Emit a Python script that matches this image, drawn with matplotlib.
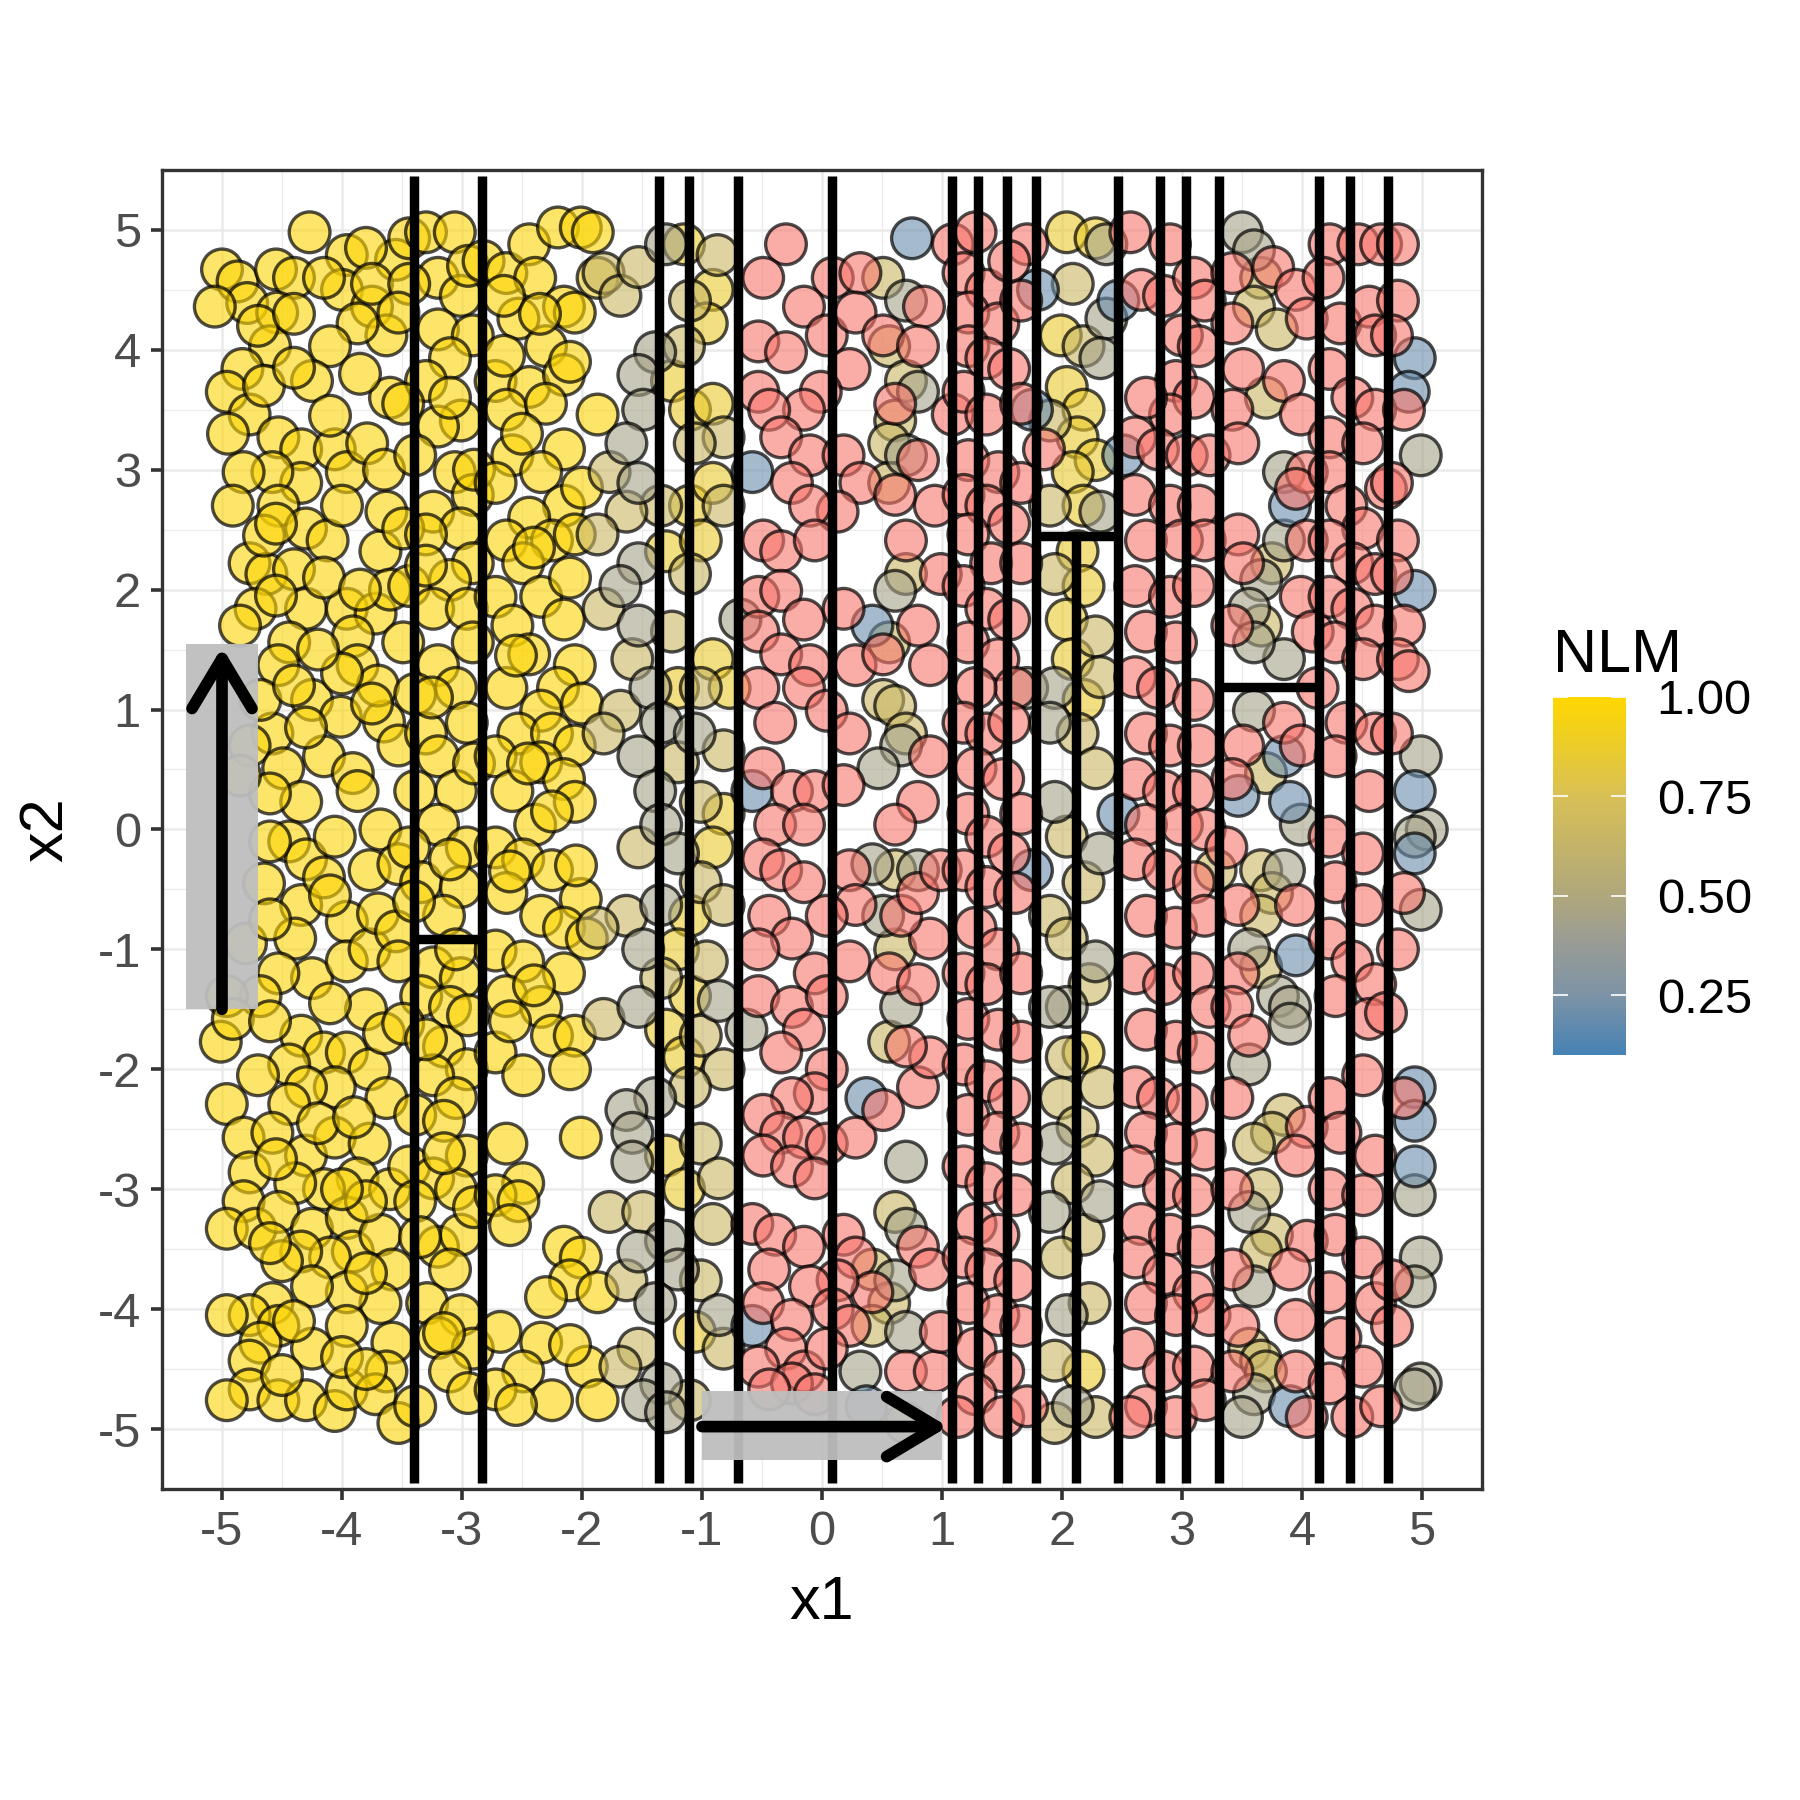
import numpy as np
import matplotlib
matplotlib.use("Agg")
from matplotlib import pyplot as plt
from matplotlib.colors import LinearSegmentedColormap, Normalize
from matplotlib.cm import ScalarMappable
from matplotlib.patches import Rectangle

plt.rcParams['font.family'] = ['Liberation Sans', 'DejaVu Sans']
plt.rcParams['axes.unicode_minus'] = False

# ---- data: (x1, x2) per colour group ----
gold_pts = [
    (-5, 4.67), (-4.87, 4.57), (-4.79, 4.39), (-5.06, 4.36), (-4.55, 4.67), (-4.27, 4.98), (-4.4, 4.6),
    (-4.54, 4.31), (-3.96, 4.79), (-4.0, 4.5), (-3.75, 4.36), (-3.63, 4.12), (-3.87, 4.22), (-4.1, 4.03),
    (-4.6, 4.03), (-4.25, 3.74), (-4.83, 3.84), (-4.96, 3.65), (-4.77, 3.46), (-4.53, 3.27), (-4.34, 3.17),
    (-4.06, 3.17), (-3.96, 2.98), (-3.79, 3.22), (-4.34, 2.89), (-4.58, 2.98), (-4.82, 2.98), (-4.91, 2.7),
    (-4.53, 2.7), (-4.3, 2.51), (-4.12, 2.41), (-3.68, 2.32), (-3.63, 2.65), (-4.77, 2.22), (-4.63, 2.13),
    (-4.4, 2.17), (-4.72, 1.84), (-4.3, 1.84), (-4.44, 1.56), (-3.96, 1.84), (-3.72, 1.8), (-3.91, 1.61),
    (-3.87, 1.37), (-4.53, 1.37), (-4.25, 1.08), (-4.01, 0.94), (-4.58, 0.8), (-4.68, 1.08), (-4.77, 0.7),
    (-4.49, 0.51), (-4.15, 0.61), (-3.91, 0.47), (-3.87, 0.32), (-4.34, 0.23), (-4.44, -0.1), (-4.3, -0.25),
    (-4.06, -0.06), (-3.68, 0.0), (-3.77, -0.34), (-3.53, -0.29), (-4.34, -0.63), (-3.96, -0.77), (-4.39, -0.91),
    (-4.25, -1.24), (-3.96, -1.1), (-3.77, -1.0), (-4.53, -1.2), (-4.68, -1.39), (-4.96, -1.39), (-5.01, -1.77),
    (-4.91, -1.58), (-4.34, -1.72), (-4.15, -1.86), (-4.44, -1.96), (-3.96, -1.86), (-3.77, -2.0), (-3.63, -2.24),
    (-4.06, -2.15), (-4.3, -2.15), (-4.44, -2.29), (-4.96, -2.29), (-4.82, -2.57), (-4.58, -2.53), (-4.3, -2.72),
    (-4.06, -2.57), (-3.77, -2.62), (-3.87, -2.91), (-4.15, -3.0), (-4.39, -2.95), (-4.77, -2.86), (-4.82, -3.1),
    (-4.96, -3.33), (-4.72, -3.33), (-4.53, -3.19), (-4.25, -3.33), (-3.96, -3.24), (-3.91, -3.52), (-4.1, -3.57),
    (-4.34, -3.52), (-3.68, -3.38), (-3.58, -3.67), (-3.68, -3.95), (-3.96, -3.86), (-4.25, -3.81), (-4.58, -3.95),
    (-4.77, -4.05), (-4.96, -4.05), (-4.53, -4.14), (-4.68, -4.28), (-4.25, -4.33), (-3.96, -4.14), (-3.58, -4.28),
    (-3.63, -4.52), (-4.77, -4.43), (-4.77, -4.67), (-4.96, -4.76), (-4.53, -4.76), (-4.3, -4.76), (-4.06, -4.85),
    (-3.96, -4.67), (-3.72, -4.71), (-3.53, -4.95),
    (-4.65, -0.45), (-4.8, -0.95), (-4.6, -1.6), (-4.2, -2.45), (-3.8, -1.5), (-3.7, -0.7), (-3.65, 0.9),
    (-3.7, 1.2), (-3.6, 2.0), (-3.65, 3.0), (-3.6, 3.6), (-3.55, 4.75), (-3.8, 4.85), (-4.15, 4.6), (-4.7, 4.2),
    (-4.95, 3.3), (-4.65, 2.45), (-4.15, 2.1), (-4.0, 1.3), (-4.4, 1.2), (-4.6, 0.3), (-4.15, -0.4),
    (-3.6, -3.0), (-4.5, -3.6), (-4.0, -4.4), (-3.8, -3.1),
    (-4.65, 3.7), (-4.4, 3.85), (-4.1, 3.45), (-3.85, 3.8), (-4.55, 2.55), (-4.0, 2.7), (-3.85, 2.0),
    (-4.55, 1.95), (-4.85, 1.7), (-4.2, 1.5), (-3.75, 1.05), (-4.3, 0.85), (-4.85, 0.45), (-4.6, -0.1),
    (-4.1, -0.55), (-3.55, -0.85), (-4.6, -0.75), (-4.1, -1.45), (-3.65, -1.7), (-4.7, -2.05), (-3.9, -2.4),
    (-4.55, -2.75), (-4.0, -3.0), (-4.6, -3.45), (-3.8, -3.7), (-4.4, -4.1), (-3.8, -4.5), (-4.5, -4.55),
    (-3.75, 4.55), (-4.4, 4.3),
    (-3.44, 4.93), (-3.3, 4.98), (-3.06, 4.98), (-3.2, 4.6), (-3.01, 4.45), (-3.44, 4.55), (-3.53, 4.31),
    (-3.2, 4.17), (-2.91, 4.12), (-3.1, 3.93), (-3.3, 3.74), (-3.49, 3.55), (-3.01, 3.41), (-3.2, 3.36),
    (-3.39, 3.12), (-3.06, 2.98), (-2.91, 2.79), (-3.24, 2.65), (-3.49, 2.51), (-3.01, 2.51), (-2.91, 2.22),
    (-3.3, 2.46), (-3.44, 2.03), (-3.1, 2.08), (-3.24, 1.84), (-2.96, 1.84), (-3.49, 1.56), (-3.2, 1.37),
    (-2.91, 1.56), (-3.05, 1.18), (-3.39, 1.13), (-3.53, 0.7), (-3.3, 0.8), (-2.96, 0.89), (-3.2, 0.61),
    (-3.05, 0.32), (-3.39, 0.32), (-3.2, 0.04), (-2.96, -0.15), (-3.44, -0.15), (-3.34, -0.44), (-3.01, -0.48),
    (-3.15, -0.72), (-3.53, -1.1), (-3.24, -1.15), (-3.01, -1.24), (-3.34, -1.39), (-3.1, -1.48), (-3.49, -1.62),
    (-3.15, -1.81), (-2.96, -2.0), (-3.24, -2.05), (-3.05, -2.24), (-3.39, -2.38), (-3.15, -2.43), (-2.96, -2.72),
    (-3.44, -2.81), (-3.24, -2.91), (-3.05, -3.0), (-3.39, -3.1), (-3.2, -3.48), (-3.01, -3.38), (-3.1, -3.67),
    (-3.29, -3.95), (-3.01, -4.05), (-3.2, -4.24), (-2.91, -4.33), (-3.1, -4.52), (-3.39, -4.81),
    (-2.95, 4.7), (-3.1, 3.6), (-2.9, 3.0), (-3.3, 2.2), (-3.25, 1.1), (-2.9, 0.55), (-3.1, -0.25),
    (-3.4, -0.6), (-3.05, -1.0), (-2.95, -1.55), (-3.3, -1.75), (-3.15, -2.7), (-2.9, -3.15), (-3.35, -3.4),
    (-3.15, -4.2), (-2.95, -4.7),
    (-2.82, 4.74), (-2.63, 4.64), (-2.44, 4.88), (-2.2, 5.02), (-2.01, 5.02), (-1.91, 4.98), (-2.39, 4.6),
    (-2.53, 4.26), (-2.15, 4.36), (-2.06, 4.31), (-2.3, 4.03), (-2.72, 3.74), (-2.44, 3.69), (-2.15, 3.79),
    (-2.63, 3.5), (-2.3, 3.55), (-1.87, 3.46), (-2.58, 3.12), (-2.15, 3.17), (-2.72, 2.89), (-2.34, 2.98),
    (-2.15, 2.7), (-2.44, 2.6), (-2.63, 2.41), (-2.25, 2.41), (-2.49, 2.22), (-2.06, 2.46), (-2.72, 1.94),
    (-2.34, 1.94), (-2.58, 1.7), (-2.15, 1.75), (-2.44, 1.46), (-2.06, 1.37), (-2.2, 1.18), (-2.63, 1.18),
    (-2.34, 0.99), (-2.53, 0.8), (-2.25, 0.8), (-2.06, 0.7), (-2.72, 0.61), (-2.34, 0.56), (-2.15, 0.42),
    (-2.58, 0.32), (-2.39, 0.04), (-2.06, 0.23), (-2.72, -0.15), (-2.49, -0.25), (-2.25, -0.34), (-2.01, -0.58),
    (-2.63, -0.53), (-2.34, -0.72), (-2.15, -0.82), (-1.96, -0.91), (-2.72, -1.01), (-2.49, -1.1), (-2.15, -1.2),
    (-2.63, -1.39), (-2.34, -1.48), (-2.25, -1.72), (-2.06, -1.72), (-2.72, -1.86), (-2.49, -2.05), (-2.01, -2.57),
    (-2.63, -2.62), (-2.49, -2.95), (-2.72, -3.05), (-2.53, -3.1), (-2.15, -3.48), (-2.01, -3.57), (-2.1, -3.76),
    (-1.87, -3.86), (-2.34, -4.28), (-2.49, -4.52), (-2.68, -4.19), (-2.72, -4.67), (-2.25, -4.76),
    (-1.96, -4.48), (-1.87, -4.76),
    (-2.65, 4.45), (-2.35, 4.3), (-2.65, 3.95), (-2.1, 3.9), (-2.5, 3.3), (-2.0, 2.85), (-2.4, 2.35),
    (-2.1, 2.1), (-2.55, 1.45), (-2.0, 1.05), (-2.45, 0.55), (-2.25, 0.15), (-2.6, -0.35), (-2.05, -0.3),
    (-2.4, -1.3), (-2.6, -1.6), (-2.1, -2.0), (-2.6, -3.3), (-2.3, -3.9), (-2.1, -4.3), (-2.55, -4.8),
]

lightgold_pts = [
    (-1.15, 4.88), (-0.91, 4.5), (-0.96, 4.22), (-1.25, 3.74), (-1.1, 3.5), (-0.91, 3.55), (-1.1, 2.7),
    (-0.91, 2.89), (-1.3, 2.32), (-1.01, 2.41), (-0.91, 1.42), (-1.2, 1.18), (-0.77, 1.18), (-0.82, 0.13),
    (-0.91, -0.15), (-1.1, -0.72), (-1.2, -1.0), (-1.1, -1.39), (-1.3, -1.67), (-1.15, -1.9), (-1.3, -2.72),
    (-1.15, -3.0), (-1.06, -4.19), (-1.87, 4.6),
    (2.04, 4.98), (2.28, 4.93), (1.99, 4.12), (2.04, 3.69), (2.18, 3.5), (2.13, 3.27), (2.28, 3.08),
    (2.09, 2.98), (2.18, 2.7), (2.13, 2.32), (2.18, 2.03), (2.04, 1.75), (2.09, 1.42), (2.18, 1.08),
    (2.18, -1.86), (2.18, -4.52),
]

tan_pts = [
    (-1.82, 4.64), (-1.68, 4.45), (-1.53, 4.69), (-0.87, 4.79), (-1.1, 4.41), (-1.15, 4.03), (-0.82, 3.27),
    (-1.06, 3.22), (-1.77, 2.98), (-1.34, 2.7), (-0.82, 2.7), (-1.63, 2.65), (-1.87, 2.46), (-1.1, 2.13),
    (-1.82, 1.84), (-1.25, 1.65), (-1.58, 1.42), (-1.01, 1.18), (-1.68, 0.99), (-1.82, 0.8), (-0.82, 0.66),
    (-1.2, 0.56), (-1.01, 0.23), (-1.53, -0.15), (-1.01, -0.44), (-1.63, -0.72), (-1.87, -0.82), (-0.82, -0.63),
    (-0.96, -1.1), (-1.34, -1.24), (-1.82, -1.58), (-1.01, -1.72), (-0.82, -2.0), (-1.1, -2.15), (-1.01, -2.62),
    (-0.86, -2.91), (-1.77, -3.19), (-1.49, -3.19), (-0.91, -3.29), (-1.01, -3.76), (-1.63, -3.76),
    (-0.82, -4.33), (-1.53, -4.33), (-1.68, -4.48), (-1.1, -4.76),
    (0.51, 4.6), (0.56, 4.03), (0.7, 3.74), (0.61, 3.41), (0.56, 3.22), (0.56, 2.89), (0.7, 2.13),
    (0.56, 1.56), (0.51, 1.08), (0.61, 1.03), (0.7, 0.8), (0.61, -0.34), (0.61, -1.0), (0.56, -1.77),
    (0.61, -3.19), (0.42, -3.67), (0.56, -3.95), (0.42, -4.14), (0.7, -4.95),
    (2.09, 4.55), (2.18, 4.03), (1.9, 3.41), (1.9, 2.7), (1.94, 2.13), (2.28, 1.61), (2.32, 1.27),
    (2.13, 0.8), (2.28, 0.51), (2.04, -0.06), (2.18, -0.44), (1.9, -0.72), (2.04, -0.91), (2.23, -1.29),
    (2.04, -1.9), (2.32, -2.15), (1.99, -2.24), (2.13, -2.48), (2.28, -2.72), (2.09, -2.95), (2.18, -3.38),
    (1.99, -3.57), (2.23, -3.95), (1.94, -4.43), (2.28, -4.9), (1.94, -4.95),
    (3.66, 4.6), (3.6, 4.36), (3.79, 4.17), (3.7, 3.6), (3.75, 2.22), (3.66, 1.7), (3.7, 0.47),
    (3.66, -0.34), (3.75, -0.53), (3.66, -0.72), (3.66, -1.15), (3.85, -2.38), (3.75, -2.53), (3.6, -2.62),
    (3.66, -3.0), (3.75, -3.38), (3.66, -3.52), (3.56, -4.33), (3.66, -4.43), (3.7, -4.52), (3.28, -0.34),
]

grey_pts = [
    (-1.3, 4.88), (-1.39, 3.98), (-1.53, 3.79), (-1.49, 3.5), (-1.63, 3.22), (-1.53, 2.89), (-1.53, 2.22),
    (-1.68, 2.03), (-1.53, 1.7), (-1.43, 1.18), (-1.34, 0.89), (-1.06, 0.8), (-1.53, 0.61), (-1.39, 0.32),
    (-1.34, 0.04), (-1.2, -0.2), (-1.34, -0.63), (-1.49, -1.0), (-0.86, -1.43), (-1.53, -1.48), (-0.63, -1.67),
    (-1.39, -2.24), (-1.63, -2.34), (-1.58, -2.53), (-1.58, -2.77), (-1.3, -3.43), (-1.53, -3.52),
    (-1.2, -3.67), (-1.39, -3.95), (-0.86, -4.05), (-1.34, -4.62), (-1.49, -4.76), (-1.3, -4.86), (-0.68, 1.75),
    (0.7, 4.41), (0.7, 3.12), (0.8, 3.65), (0.61, 1.99), (0.66, 0.7), (0.47, 0.51), (0.42, -0.29),
    (0.8, -0.34), (0.51, -0.72), (0.66, -1.48), (0.7, -2.77), (0.7, -3.33), (0.61, -3.76), (0.7, -4.19),
    (0.32, -4.52), (1.71, 1.18),
    (2.37, 4.88), (2.37, 4.26), (2.32, 3.93), (2.32, 2.65), (1.94, 1.18), (1.9, 0.89), (1.94, 0.23),
    (2.32, -0.2), (2.28, -1.1), (2.04, -1.48), (1.9, -1.48), (1.94, -2.62), (1.9, -3.19), (2.32, -3.1),
    (2.04, -4.05), (2.09, -4.81),
    (3.5, 4.98), (3.6, 4.83), (3.85, 2.98), (3.85, 2.41), (3.66, 2.08), (3.56, 1.84), (3.85, 1.42),
    (3.6, 1.56), (3.6, 0.99), (3.99, 0.04), (3.85, -0.34), (3.56, -1.0), (3.8, -1.39), (3.9, -1.48),
    (3.9, -1.62), (3.56, -1.96), (3.56, -3.19), (3.6, -3.81), (3.6, -4.71), (3.5, -4.9),
    (4.99, 3.12), (4.99, 0.61), (5.04, 0.0), (4.94, -0.06), (4.99, -0.67), (4.94, -3.05), (4.99, -3.57),
    (4.94, -3.81), (4.99, -4.62), (4.94, -4.67),
]

blue_pts = [
    (-0.58, 2.98), (-0.58, 0.32), (0.42, 1.7), (0.37, -2.24), (-0.58, -4.14), (0.75, 4.93), (0.37, -4.81),
    (1.8, 4.5), (1.75, 3.5), (1.75, -0.34), (2.51, 3.12), (2.47, 0.13), (2.47, 4.41), (3.9, 2.7),
    (3.85, 0.61), (3.47, 0.28), (3.9, 0.23), (3.95, -1.05), (3.9, -4.81), (4.94, 3.93), (4.89, 3.65),
    (4.94, 1.99), (4.94, 0.32), (4.94, -0.2), (4.94, -2.15), (4.94, -2.43), (4.94, -2.81),
]

# points with missing NLM (drawn in the NA colour)
na_pts = [
    (-0.3, 4.88), (-0.49, 4.6), (0.09, 4.6), (0.32, 4.64), (-0.15, 4.36), (-0.53, 4.07), (-0.3, 3.98),
    (0.04, 4.12), (0.28, 4.31), (0.51, 4.12), (0.85, 4.36), (0.8, 4.03), (0.23, 3.84), (-0.01, 3.65),
    (-0.15, 3.5), (-0.53, 3.65), (-0.44, 3.5), (-0.34, 3.27), (-0.1, 3.12), (-0.25, 2.89), (0.18, 3.12),
    (0.32, 2.89), (0.13, 2.65), (-0.1, 2.7), (-0.49, 2.41), (-0.34, 2.32), (-0.06, 2.41), (-0.53, 1.94),
    (-0.34, 1.99), (-0.15, 1.75), (0.18, 1.84), (-0.53, 1.65), (-0.34, 1.46), (-0.1, 1.37), (0.28, 1.37),
    (0.51, 1.46), (0.9, 1.37), (0.8, 1.7), (0.99, 2.13), (0.7, 2.41), (0.94, 2.7), (0.61, 2.79), (0.8, 3.08),
    (1.09, 3.46), (0.61, 3.55), (-0.53, 1.18), (-0.39, 0.89), (-0.15, 1.18), (0.04, 0.99), (0.23, 0.8),
    (-0.49, 0.51), (-0.25, 0.32), (-0.06, 0.32), (0.18, 0.37), (-0.39, 0.04), (-0.15, 0.04), (-0.49, -0.25),
    (-0.34, -0.34), (-0.15, -0.44), (0.23, -0.34), (0.28, -0.63), (0.04, -0.72), (-0.44, -0.72), (-0.25, -0.91),
    (-0.53, -1.0), (-0.06, -1.2), (0.23, -1.1), (0.56, -1.2), (0.8, -1.29), (0.9, -0.91), (0.66, -0.72),
    (0.8, -0.53), (0.99, -0.34), (0.8, 0.23), (0.9, 0.61), (0.61, 0.04), (-0.53, -1.39), (-0.25, -1.48),
    (0.04, -1.39), (-0.15, -1.67), (-0.34, -1.86), (0.04, -2.0), (-0.06, -2.2), (-0.25, -2.24), (-0.49, -2.38),
    (-0.34, -2.53), (-0.15, -2.57), (0.04, -2.62), (0.28, -2.57), (0.51, -2.34), (0.8, -2.15), (0.9, -1.9),
    (0.7, -1.81), (-0.49, -2.72), (-0.25, -2.81), (-0.06, -2.91), (-0.58, -3.29), (-0.39, -3.38), (-0.15, -3.48),
    (0.18, -3.38), (0.28, -3.57), (0.42, -3.86), (0.13, -3.76), (-0.1, -3.81), (-0.44, -3.67), (-0.49, -3.95),
    (-0.25, -4.09), (0.09, -4.0), (0.23, -4.14), (-0.3, -4.33), (-0.53, -4.48), (-0.15, -4.52), (0.04, -4.33),
    (-0.25, -4.62), (-0.44, -4.67), (-0.06, -4.71), (0.8, -3.48), (0.9, -3.67), (0.7, -4.52), (0.94, -4.52),
    (0.99, -4.19),
    (1.09, 4.88), (1.28, 4.98), (1.18, 4.64), (1.37, 4.5), (1.22, 4.31), (1.47, 4.22), (1.66, 4.41),
    (1.71, 4.88), (1.56, 4.74), (1.22, 4.03), (1.37, 3.93), (1.56, 3.84), (1.18, 3.65), (1.37, 3.46),
    (1.66, 3.55), (1.22, 3.08), (1.47, 2.98), (1.66, 2.89), (1.18, 2.79), (1.37, 2.7), (1.56, 2.55),
    (1.22, 2.46), (1.41, 2.22), (1.66, 2.22), (1.18, 2.03), (1.37, 1.84), (1.56, 1.75), (1.22, 1.56),
    (1.47, 1.42), (1.61, 1.18), (1.28, 1.18), (1.18, 0.89), (1.37, 0.8), (1.56, 0.89), (1.28, 0.51),
    (1.51, 0.42), (1.66, 0.13), (1.22, 0.13), (1.37, -0.06), (1.56, -0.2), (1.18, -0.34), (1.37, -0.48),
    (1.61, -0.53), (1.28, -0.82), (1.47, -1.0), (1.18, -1.2), (1.37, -1.29), (1.66, -1.2), (1.22, -1.58),
    (1.47, -1.67), (1.66, -1.77), (1.18, -1.96), (1.37, -2.1), (1.56, -2.24), (1.22, -2.38), (1.47, -2.53),
    (1.66, -2.62), (1.18, -2.81), (1.37, -2.95), (1.61, -3.05), (1.28, -3.29), (1.47, -3.38), (1.18, -3.57),
    (1.37, -3.67), (1.61, -3.76), (1.22, -3.95), (1.47, -4.05), (1.66, -4.14), (1.28, -4.33), (1.51, -4.52),
    (1.28, -4.71), (1.51, -4.9), (1.71, -4.81), (1.13, -4.9), (1.85, 3.17),
    (2.57, 4.98), (2.66, 4.5), (2.9, 4.88), (2.85, 4.45), (3.1, 4.6), (3.19, 4.41), (3.0, 4.12),
    (3.14, 4.03), (2.95, 3.74), (3.1, 3.6), (2.9, 3.46), (2.7, 3.6), (2.61, 3.27), (2.8, 3.17), (3.04, 3.12),
    (3.23, 3.12), (2.61, 2.79), (2.9, 2.7), (3.14, 2.7), (2.7, 2.41), (3.0, 2.41), (3.19, 2.41), (2.61, 2.03),
    (2.9, 1.94), (3.1, 2.03), (2.7, 1.65), (2.95, 1.56), (2.61, 1.27), (2.8, 1.18), (3.1, 1.08), (2.7, 0.8),
    (2.9, 0.7), (3.14, 0.7), (2.61, 0.42), (2.85, 0.32), (3.1, 0.32), (2.7, 0.04), (3.0, 0.04), (3.19, 0.0),
    (2.61, -0.25), (2.85, -0.34), (3.1, -0.44), (2.7, -0.72), (2.95, -0.82), (3.19, -0.72), (2.61, -1.2),
    (2.85, -1.29), (3.1, -1.2), (3.23, -1.48), (2.7, -1.67), (2.95, -1.77), (3.14, -1.86), (2.61, -2.15),
    (2.8, -2.24), (3.04, -2.29), (2.7, -2.53), (2.95, -2.62), (3.19, -2.67), (2.61, -2.81), (2.85, -3.0),
    (3.1, -3.05), (2.66, -3.29), (2.9, -3.38), (3.14, -3.48), (2.61, -3.57), (2.85, -3.71), (3.1, -3.86),
    (3.23, -4.05), (2.7, -3.95), (2.95, -4.05), (2.61, -4.33), (2.85, -4.52), (3.1, -4.48), (2.7, -4.81),
    (2.95, -4.9), (3.19, -4.76), (2.57, -4.9),
    (3.42, 4.64), (3.76, 4.69), (3.95, 4.5), (4.04, 4.26), (3.42, 4.22), (3.51, 3.84), (3.42, 3.5),
    (3.47, 3.22), (3.85, 3.74), (3.99, 3.46), (4.04, 2.98), (3.95, 2.84), (3.47, 2.46), (3.51, 2.22),
    (4.04, 2.41), (3.42, 1.7), (3.99, 1.94), (4.09, 1.65), (3.85, 0.89), (3.51, 0.7), (3.42, 0.42),
    (3.99, 0.7), (3.37, -0.15), (3.47, -0.63), (3.95, -0.63), (3.47, -1.2), (3.42, -1.48), (3.56, -1.72),
    (3.42, -2.24), (4.04, -2.48), (3.95, -2.72), (3.42, -3.0), (4.04, -3.43), (3.9, -3.67), (3.42, -3.67),
    (3.95, -4.52), (3.42, -4.52), (3.95, -4.09), (3.47, -4.14),
    (4.23, 4.88), (4.18, 4.6), (4.32, 4.22), (4.56, 4.36), (4.61, 4.12), (4.47, 4.88), (4.66, 4.88),
    (4.23, 3.84), (4.42, 3.6), (4.61, 3.5), (4.23, 3.27), (4.51, 3.22), (4.23, 2.98), (4.7, 2.84),
    (4.37, 2.7), (4.51, 2.51), (4.23, 2.41), (4.42, 2.22), (4.61, 2.13), (4.23, 1.94), (4.42, 1.84),
    (4.61, 1.7), (4.28, 1.56), (4.51, 1.42), (4.13, 1.18), (4.37, 0.89), (4.61, 0.8), (4.28, 0.61),
    (4.56, 0.32), (4.23, -0.06), (4.51, -0.2), (4.28, -0.44), (4.51, -0.63), (4.23, -0.91), (4.42, -1.1),
    (4.61, -1.29), (4.28, -1.39), (4.56, -1.58), (4.7, -1.53), (4.23, -2.24), (4.51, -2.05), (4.32, -2.53),
    (4.61, -2.72), (4.23, -3.0), (4.51, -3.05), (4.28, -3.38), (4.51, -3.57), (4.23, -3.86), (4.61, -3.95),
    (4.32, -4.24), (4.51, -4.48), (4.23, -4.62), (4.42, -4.9), (4.66, -4.81), (4.04, -4.9),
    (4.8, 4.88), (4.8, 4.41), (4.75, 4.12), (4.85, 3.5), (4.75, 2.89), (4.8, 2.41), (4.75, 2.13),
    (4.85, 1.7), (4.8, 1.42), (4.89, 1.32), (4.75, 0.8), (4.85, -0.53), (4.8, -1.0), (4.85, -2.24),
    (4.75, -3.76), (4.75, -4.14),
]

# NLM level
nlm_gold = 0.98
nlm_lightgold = 0.86
nlm_tan = 0.66
nlm_grey = 0.45
nlm_blue = 0.2

# partition lines: full height vertical splits
split_x = [-3.4, -2.83, -1.36, -1.11, -0.7, 0.08, 1.08, 1.3, 1.54, 1.785, 2.47, 2.82, 3.03, 3.31,
           4.14, 4.4, 4.72]
# partial splits (position, from, to)
vsplit_partial = [(2.115, -5.45, 2.45)]
hsplit = [(-0.91, -3.4, -2.83), (2.45, 1.785, 2.47), (1.19, 3.31, 4.14)]

groups = [(gold_pts, nlm_gold), (lightgold_pts, nlm_lightgold), (tan_pts, nlm_tan),
          (grey_pts, nlm_grey), (blue_pts, nlm_blue), (na_pts, np.nan)]
x1 = np.concatenate([[p[0] for p in g] for g, _ in groups])
x2 = np.concatenate([[p[1] for p in g] for g, _ in groups])
nlm = np.concatenate([[v] * len(g) for g, v in groups])

# steelblue -> grey -> gold over NLM 0.1 .. 1.0, NA in salmon
cmap = LinearSegmentedColormap.from_list(
    "nlm", [(0.0, "#4682B4"), (0.167, "#7D93A6"), (0.333, "#9D9D92"), (0.444, "#AFA77C"),
            (0.722, "#D8C056"), (1.0, "#FFD700")])
cmap.set_bad("#F8766D")
norm = Normalize(vmin=0.1, vmax=1.0)

face = cmap(norm(nlm))
face[:, 3] = 0.6
edge = np.tile([0.0, 0.0, 0.0, 0.7], (len(nlm), 1))

fig = plt.figure(figsize=(9, 9), dpi=200)
ax = fig.add_axes([0.09, 0.1728, 0.7333, 0.7328])

ax.scatter(x1, x2, s=215, facecolors=face, edgecolors=edge, linewidths=1.2, zorder=2)

ylo, yhi = -5.45, 5.45
ax.vlines(split_x, ylo, yhi, color="black", lw=3.4, zorder=3)
for xv, a, b in vsplit_partial:
    ax.vlines(xv, a, b, color="black", lw=3.4, zorder=3)
for yv, a, b in hsplit:
    ax.hlines(yv, a, b, color="black", lw=3.4, zorder=3)

# direction arrows on grey boxes
ax.add_patch(Rectangle((-5.3, -1.5), 0.6, 3.05, facecolor="#BEBEBE", edgecolor="none",
                       alpha=0.95, zorder=4))
ax.add_patch(Rectangle((-1.0, -5.26), 2.0, 0.58, facecolor="#BEBEBE", edgecolor="none",
                       alpha=0.95, zorder=4))
arrow = dict(arrowstyle="->,head_length=0.45,head_width=0.27", lw=4.2, color="black",
             shrinkA=0, shrinkB=0, mutation_scale=40)
ax.annotate("", xy=(-5, 1.52), xytext=(-5, -1.5), arrowprops=arrow, zorder=5)
ax.annotate("", xy=(1.05, -4.98), xytext=(-1.0, -4.98), arrowprops=arrow, zorder=5)

ax.set_xlim(-5.45, 5.45)
ax.set_ylim(ylo, yhi)
ticks = np.arange(-5, 6)
ax.set_xticks(ticks)
ax.set_yticks(ticks)
ax.set_xticks(np.arange(-5.5, 5.6, 1.0), minor=True)
ax.set_yticks(np.arange(-5.5, 5.6, 1.0), minor=True)
ax.set_xticklabels([str(t) for t in ticks])
ax.set_yticklabels([str(t) for t in ticks])
ax.grid(which="major", color="#EBEBEB", lw=0.9, zorder=0)
ax.grid(which="minor", color="#EBEBEB", lw=0.45, zorder=0)
ax.set_axisbelow(True)
ax.tick_params(which="major", length=4, width=1.3, color="#333333", labelcolor="#4D4D4D",
               labelsize=17.6, pad=3.6)
ax.tick_params(which="minor", length=0)
for sp in ax.spines.values():
    sp.set_color("#333333")
    sp.set_linewidth(1.2)
ax.set_xlabel("x1", fontsize=22, labelpad=7)
ax.set_ylabel("x2", fontsize=22, labelpad=8)

# colour bar legend
cax = fig.add_axes([0.8628, 0.4139, 0.0406, 0.1989])
sm = ScalarMappable(norm=norm, cmap=cmap)
cb = fig.colorbar(sm, cax=cax)
cb.outline.set_visible(False)
cb.set_ticks([0.25, 0.5, 0.75, 1.0])
cb.set_ticklabels(["0.25", "0.50", "0.75", "1.00"])
cax.tick_params(direction="in", length=5.4, width=0.6, color="white", left=True, right=True,
                labelsize=17.6, pad=11)
cax.set_title("NLM", fontsize=22, loc="left", pad=9)

fig.savefig("out.png", dpi=200)
